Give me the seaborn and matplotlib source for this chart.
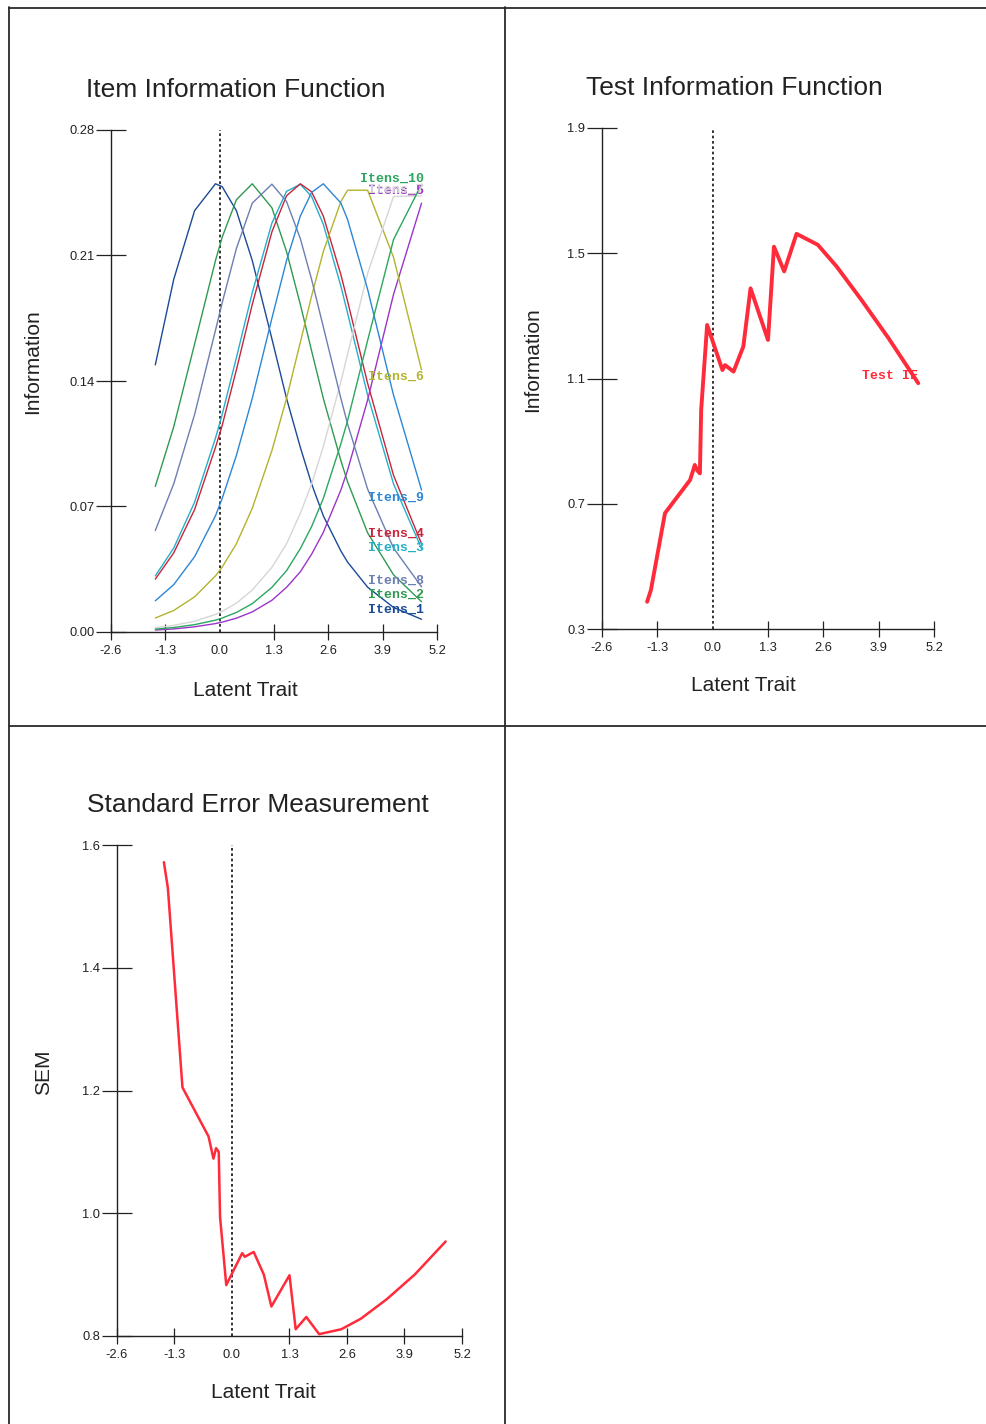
import numpy as np
import pandas as pd
import matplotlib
matplotlib.use("Agg")
import matplotlib.pyplot as plt
from matplotlib.lines import Line2D
import seaborn as sns

# ---------------------------------------------------------------------------
# Data
# ---------------------------------------------------------------------------
# Ability values at which the item information curves are evaluated
theta_items = [-1.54, -1.1, -0.6, -0.1, 0.06, 0.4, 0.78, 1.25, 1.6, 1.93,
               2.2, 2.48, 2.9, 3.06, 3.54, 4.16, 4.83]

itens_1 = [0.1490, 0.1966, 0.2350, 0.2500, 0.2484, 0.2350, 0.2072, 0.1635, 0.1303,
           0.1030, 0.0826, 0.0648, 0.0452, 0.0390, 0.0250, 0.0137, 0.0071]
itens_2 = [0.0812, 0.1144, 0.1606, 0.2072, 0.2202, 0.2411, 0.2500, 0.2366, 0.2122,
           0.1827, 0.1568, 0.1303, 0.0956, 0.0838, 0.0553, 0.0319, 0.0169]
itens_3 = [0.0313, 0.0468, 0.0724, 0.1082, 0.1213, 0.1530, 0.1893, 0.2281, 0.2458,
           0.2497, 0.2429, 0.2274, 0.1929, 0.1779, 0.1321, 0.0826, 0.0465]
itens_4 = [0.0295, 0.0441, 0.0683, 0.1030, 0.1152, 0.1462, 0.1827, 0.2232, 0.2433,
           0.2500, 0.2455, 0.2320, 0.1993, 0.1846, 0.1387, 0.0874, 0.0492]
itens_5 = [0.0011, 0.0017, 0.0029, 0.0047, 0.0055, 0.0077, 0.0112, 0.0177, 0.0249,
           0.0336, 0.0434, 0.0556, 0.0792, 0.0902, 0.1294, 0.1883, 0.2392]
itens_6 = [0.0078, 0.0120, 0.0196, 0.0313, 0.0362, 0.0492, 0.0690, 0.1012, 0.1303,
           0.1616, 0.1874, 0.2122, 0.2401, 0.2464, 0.2464, 0.2090, 0.1462]
itens_7 = [0.0024, 0.0037, 0.0060, 0.0098, 0.0115, 0.0161, 0.0234, 0.0361, 0.0492,
           0.0662, 0.0826, 0.1035, 0.1396, 0.1549, 0.2000, 0.2429, 0.2433]
itens_8 = [0.0566, 0.0826, 0.1213, 0.1683, 0.1836, 0.2139, 0.2392, 0.2498, 0.2401,
           0.2194, 0.1966, 0.1702, 0.1303, 0.1161, 0.0797, 0.0468, 0.0252]
itens_9 = [0.0174, 0.0264, 0.0420, 0.0648, 0.0745, 0.0985, 0.1303, 0.1750, 0.2072,
           0.2320, 0.2452, 0.2500, 0.2393, 0.2301, 0.1911, 0.1321, 0.0792]
itens_10 = [0.0016, 0.0025, 0.0041, 0.0066, 0.0078, 0.0109, 0.0158, 0.0249, 0.0342,
            0.0465, 0.0588, 0.0745, 0.1050, 0.1178, 0.1626, 0.2189, 0.2497]

item_names = ["Itens_1", "Itens_2", "Itens_3", "Itens_4", "Itens_5",
              "Itens_6", "Itens_7", "Itens_8", "Itens_9", "Itens_10"]
item_values = [itens_1, itens_2, itens_3, itens_4, itens_5,
               itens_6, itens_7, itens_8, itens_9, itens_10]

# Ability values for the test-level curves
theta_test = [-1.54, -1.45, -1.12, -0.53, -0.42, -0.36, -0.30, -0.27, -0.13, 0.23,
              0.29, 0.49, 0.72, 0.89, 1.30, 1.44, 1.68, 1.97, 2.47, 2.91, 3.50,
              4.13, 4.83]
test_info = [0.387, 0.425, 0.670, 0.776, 0.824, 0.806, 0.797, 1.000, 1.271, 1.127,
             1.143, 1.122, 1.202, 1.388, 1.223, 1.521, 1.442, 1.562, 1.527, 1.458,
             1.350, 1.229, 1.085]
sem_values = [1.572, 1.530, 1.205, 1.125, 1.089, 1.106, 1.100, 0.994, 0.883, 0.935,
              0.929, 0.937, 0.900, 0.848, 0.899, 0.811, 0.831, 0.803, 0.811, 0.828,
              0.860, 0.900, 0.954]

x_ticks = [-2.6, -1.3, 0.0, 1.3, 2.6, 3.9, 5.2]
x_tick_labels = ["-2.6", "-1.3", "0.0", "1.3", "2.6", "3.9", "5.2"]
iif_ticks = [0.00, 0.07, 0.14, 0.21, 0.28]
tif_ticks = [0.3, 0.7, 1.1, 1.5, 1.9]
sem_ticks = [0.8, 1.0, 1.2, 1.4, 1.6]

# ---------------------------------------------------------------------------
# Styling
# ---------------------------------------------------------------------------
sns.set_theme(style="white")
plt.rcParams["font.family"] = ["Liberation Sans", "DejaVu Sans"]

palette = {
    "Itens_1": "#1b4a96", "Itens_2": "#2f9a52", "Itens_3": "#23b0c8",
    "Itens_4": "#c8243c", "Itens_5": "#9b35c9", "Itens_6": "#b3b32e",
    "Itens_7": "#d6d6d6", "Itens_8": "#6b7fb3", "Itens_9": "#2c86d6",
    "Itens_10": "#2aa65e",
}
# vertical nudge (pixels) of each end label relative to its curve end
label_nudge = {
    "Itens_1": 9, "Itens_2": 7, "Itens_3": 1, "Itens_4": 10, "Itens_5": 12,
    "Itens_6": -7, "Itens_7": 6, "Itens_8": 6, "Itens_9": -8, "Itens_10": 6,
}
RED = "#ff2b3a"
W, H = 987, 1424

fig = plt.figure(figsize=(W / 100, H / 100), dpi=100)
fig.patch.set_facecolor("white")


def axes_px(left, top, right, bottom):
    return fig.add_axes([left / W, 1 - bottom / H, (right - left) / W, (bottom - top) / H])


def style_axes(ax, yticks, ylabels):
    ax.set_xlim(-2.6, 5.2)
    ax.set_ylim(yticks[0], yticks[-1])
    ax.set_xticks(x_ticks)
    ax.set_xticklabels(x_tick_labels)
    ax.set_yticks(yticks)
    ax.set_yticklabels(ylabels)
    for side in ("top", "right"):
        ax.spines[side].set_visible(False)
    for side in ("left", "bottom"):
        ax.spines[side].set_color("#222222")
        ax.spines[side].set_linewidth(1.0)
    ax.tick_params(axis="y", direction="inout", length=21, width=0.9,
                   colors="#222222", labelsize=9.3, pad=1.5, left=True)
    ax.tick_params(axis="x", direction="inout", length=11, width=0.9,
                   colors="#222222", labelsize=9.3, pad=4, bottom=True)
    ax.xaxis.get_major_ticks()[2].tick1line.set_visible(False)
    ax.axvline(0.0, color="#111111", lw=1.2, ls=(0, (1.6, 1.6)), zorder=1)
    ax.set_xlabel("")
    ax.set_ylabel("")
    ax.set_facecolor("white")


def px_text(x, y, s, **kw):
    fig.text(x / W, 1 - y / H, s, ha="center", va="center", color="#222222", **kw)


# ---------------------------------------------------------------------------
# Item Information Function
# ---------------------------------------------------------------------------
ax1 = axes_px(111, 130, 437, 632)
items_df = pd.DataFrame(
    [(n, t, v) for n, vals in zip(item_names, item_values) for t, v in zip(theta_items, vals)],
    columns=["item", "theta", "info"],
)
sns.lineplot(data=items_df, x="theta", y="info", hue="item", hue_order=item_names,
             palette=palette, lw=1.0, legend=False, ax=ax1, zorder=3)
style_axes(ax1, iif_ticks, [f"{v:.2f}" for v in iif_ticks])
for name, vals in zip(item_names, item_values):
    ax1.annotate(name, xy=(theta_items[-1], vals[-1]), xytext=(2, label_nudge[name]),
                 textcoords="offset pixels", ha="right", va="center",
                 color=palette[name], fontsize=9.5, fontweight="bold",
                 family=["Liberation Mono", "DejaVu Sans Mono"], zorder=4)
px_text(236, 90, "Item Information Function", fontsize=19)
px_text(33, 362, "Information", fontsize=15, rotation=90)
px_text(245, 690, "Latent Trait", fontsize=15)

# ---------------------------------------------------------------------------
# Test Information Function
# ---------------------------------------------------------------------------
ax2 = axes_px(602, 128, 934, 629)
test_df = pd.DataFrame({"theta": theta_test, "info": test_info, "sem": sem_values})
sns.lineplot(data=test_df, x="theta", y="info", color=RED, lw=2.8, sort=False,
             ax=ax2, zorder=3)
style_axes(ax2, tif_ticks, [f"{v:.1f}" for v in tif_ticks])
ax2.annotate("Test IF", xy=(theta_test[-1], test_info[-1]), xytext=(0, 7),
             textcoords="offset pixels", ha="right", va="center", color=RED,
             fontsize=9.5, fontweight="bold",
             family=["Liberation Mono", "DejaVu Sans Mono"], zorder=2)
px_text(734, 88, "Test Information Function", fontsize=19)
px_text(533, 360, "Information", fontsize=15, rotation=90)
px_text(743, 686, "Latent Trait", fontsize=15)

# ---------------------------------------------------------------------------
# Standard Error Measurement
# ---------------------------------------------------------------------------
ax3 = axes_px(117, 845, 462, 1336)
sns.lineplot(data=test_df, x="theta", y="sem", color=RED, lw=1.8, sort=False,
             ax=ax3, zorder=3)
style_axes(ax3, sem_ticks, [f"{v:.1f}" for v in sem_ticks])
px_text(258, 805, "Standard Error Measurement", fontsize=19)
px_text(44, 1072, "SEM", fontsize=15, rotation=90)
px_text(263, 1393, "Latent Trait", fontsize=15)

# ---------------------------------------------------------------------------
# Panel frame
# ---------------------------------------------------------------------------
frame = [((9, 9), (7, H)), ((505, 505), (7, H)), ((9, W), (8, 8)), ((9, W), (726, 726))]
for xs, ys in frame:
    fig.add_artist(Line2D([x / W for x in xs], [1 - y / H for y in ys],
                          transform=fig.transFigure, color="#2a2a2a", lw=1.3))

fig.savefig("out.png", dpi=100, facecolor="white")
